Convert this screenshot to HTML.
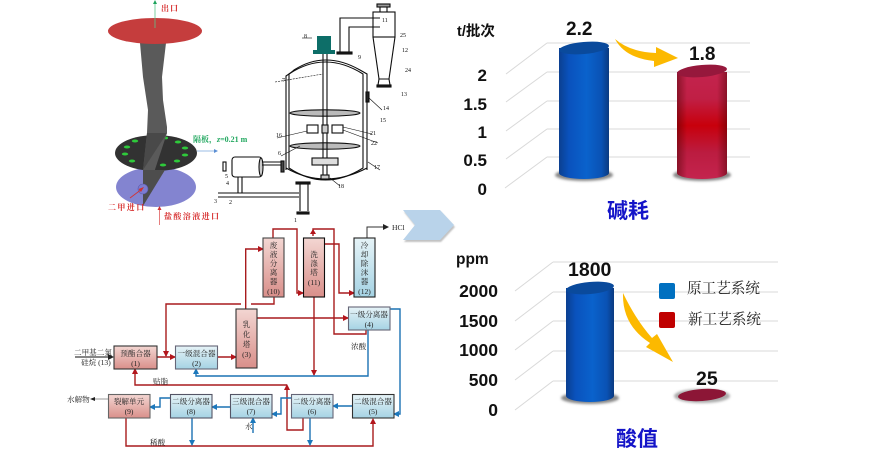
<!DOCTYPE html>
<html><head><meta charset="utf-8"><style>
html,body{margin:0;padding:0;background:#fff;width:892px;height:472px;overflow:hidden}
svg{display:block}
.s{font-family:"Liberation Serif","Noto Serif CJK SC",serif}
.b{font-family:"Liberation Sans","Noto Sans CJK SC",sans-serif;font-weight:bold;fill:#111}
.n{font-size:6px;fill:#111}
.t{font-size:7.6px;fill:#222;text-anchor:middle}
.r{fill:none;stroke:#a81a1e;stroke-width:1.4}
.u{fill:none;stroke:#1c72b4;stroke-width:1.4}
.g{stroke:#d9d9d9;stroke-width:1;fill:none}
</style></head><body>
<svg width="892" height="472" viewBox="0 0 892 472" xmlns="http://www.w3.org/2000/svg">
<defs>
<linearGradient id="p" x1="0" y1="0" x2="0" y2="1"><stop offset="0" stop-color="#f3d6d2"/><stop offset="1" stop-color="#d98f8a"/></linearGradient>
<linearGradient id="q" x1="0" y1="0" x2="0" y2="1"><stop offset="0" stop-color="#e6f3f7"/><stop offset="1" stop-color="#a5d3e4"/></linearGradient>
<linearGradient id="bc" x1="0" y1="0" x2="1" y2="0"><stop offset="0" stop-color="#0b3f90"/><stop offset=".2" stop-color="#0a52bd"/><stop offset=".55" stop-color="#0a62cc"/><stop offset=".85" stop-color="#0a52b4"/><stop offset="1" stop-color="#0b3a80"/></linearGradient>
<linearGradient id="rc" x1="0" y1="0" x2="0" y2="1"><stop offset="0" stop-color="#c4244e"/><stop offset=".25" stop-color="#c01f45"/><stop offset=".5" stop-color="#c8000c"/><stop offset=".75" stop-color="#bb1c40"/><stop offset="1" stop-color="#c4244e"/></linearGradient>
<linearGradient id="rs" x1="0" y1="0" x2="1" y2="0"><stop offset="0" stop-color="#400" stop-opacity=".45"/><stop offset=".2" stop-color="#400" stop-opacity="0"/><stop offset=".8" stop-color="#400" stop-opacity="0"/><stop offset="1" stop-color="#400" stop-opacity=".45"/></linearGradient>
<marker id="ar" markerWidth="6" markerHeight="6" refX="5" refY="3" orient="auto" markerUnits="userSpaceOnUse"><path d="M0,0L6,3L0,6Z" fill="#b3161c"/></marker>
<marker id="au" markerWidth="6" markerHeight="6" refX="5" refY="3" orient="auto" markerUnits="userSpaceOnUse"><path d="M0,0L6,3L0,6Z" fill="#1f78bc"/></marker>
<marker id="ak" markerWidth="6" markerHeight="6" refX="5" refY="3" orient="auto" markerUnits="userSpaceOnUse"><path d="M0,0L6,3L0,6Z" fill="#222"/></marker>
<filter id="bl" x="-5%" y="-5%" width="110%" height="110%"><feGaussianBlur stdDeviation=".35"/></filter>
<filter id="bs" x="-20%" y="-50%" width="140%" height="200%"><feGaussianBlur stdDeviation="1.2"/></filter>
<filter id="bc2" x="-10%" y="-10%" width="120%" height="130%"><feDropShadow dx="1" dy="2" stdDeviation=".8" flood-color="#999" flood-opacity=".6"/></filter>
</defs>

<!-- CFD model -->
<g filter="url(#bl)">
<ellipse cx="156" cy="187" rx="40" ry="20" fill="#8384d0"/>
<ellipse cx="156" cy="153" rx="41" ry="18" fill="#333"/>
<g fill="#2fc93a">
<ellipse cx="135" cy="141" rx="3.2" ry="1.5"/><ellipse cx="178" cy="142" rx="3.2" ry="1.5"/><ellipse cx="185" cy="148" rx="3.2" ry="1.5"/><ellipse cx="185" cy="155" rx="3.2" ry="1.5"/><ellipse cx="177" cy="161" rx="3.2" ry="1.5"/><ellipse cx="163" cy="165" rx="3.2" ry="1.5"/><ellipse cx="148" cy="165" rx="2.5" ry="1.5"/><ellipse cx="132" cy="161" rx="3.2" ry="1.5"/><ellipse cx="125" cy="154" rx="3.2" ry="1.5"/><ellipse cx="127" cy="147" rx="3.2" ry="1.5"/><ellipse cx="166" cy="138" rx="2" ry="1.4"/>
</g>
<polygon points="140,43 166,43 162,77 163,100 167,127 167,133 143,206 143,170 147,133 148,110 143,77" fill="#5a5a5a"/>
<polygon points="147,133 167,133 143,170" fill="#4a4a4a"/>
<polygon points="143,170 165,170 143,206" fill="#4e4e4e"/>
<circle cx="143" cy="189" r="5" fill="#7c7cd0" stroke="#5a5ab0" stroke-width=".6"/>
<ellipse cx="155" cy="31" rx="47" ry="13" fill="#c53c3e"/>
<path d="M155,28V3" stroke="#5cc58a" stroke-width=".8"/><path d="M153,4L155,0L157,4Z" fill="#1fa35c"/>
<path d="M130,198L142,189" stroke="#d43030" stroke-width=".8"/><path d="M144,187L141,192L138.500,189Z" fill="#d03030"/>
<path d="M159.500,225V209" stroke="#e06060" stroke-width=".8"/><path d="M157.500,210L159.500,206L161.500,210Z" fill="#d03030"/>
<path d="M197,151H214" stroke="#7aa6dc" stroke-width=".8"/><path d="M214,149L218,151L214,153Z" fill="#5b8fd4"/>
<text class="s" x="161" y="11" font-size="8" font-weight="bold" fill="#d62c2c" letter-spacing="1">出口</text>
<text class="s" x="193" y="142" font-size="8" font-weight="bold" fill="#23a860">隔板，<tspan font-style="italic">z</tspan>=0.21 m</text>
<text class="s" x="108" y="210" font-size="8" font-weight="bold" fill="#d62c2c" letter-spacing="1.4">二甲进口</text>
<text class="s" x="164" y="219" font-size="8" font-weight="bold" fill="#d62c2c" letter-spacing="1.4">盐酸溶液进口</text>
</g>

<!-- Reactor -->
<g filter="url(#bl)" fill="none" stroke="#111" stroke-width="1.100">
<path d="M286,170V76Q292,72 294,70Q325,50 360,70L367,74V170"/>
<path d="M289,168V74Q325,50 363,74V168Q325,192 289,168Z"/>
<path d="M286,168Q325,190 367,168" />
<ellipse cx="325" cy="113" rx="35" ry="3.200" fill="#bbb"/>
<ellipse cx="325" cy="146" rx="35" ry="3.200" fill="#bbb"/>
<path d="M323,54V178M327,54V178"/>
<rect x="307" y="125" width="11" height="8" fill="#fff"/><rect x="332" y="125" width="11" height="8" fill="#fff"/><rect x="322" y="125" width="6" height="8" fill="#ccc"/>
<rect x="312" y="158" width="26" height="7" fill="#ddd"/>
<rect x="321" y="175" width="8" height="4" fill="#ccc"/>
<rect x="366" y="92" width="3" height="10" fill="#222"/>
<rect x="232" y="157" width="30" height="20" rx="3" fill="#fff"/>
<ellipse cx="261" cy="167" rx="2" ry="9" fill="#ccc"/>
<rect x="223" y="162" width="3" height="9" fill="#fff"/>
<path d="M262,162H282M262,165H282"/><rect x="281" y="161" width="3" height="11" fill="#444"/>
<path d="M238,177V193M242,177V193"/>
<path d="M218,193H299M218,197H299"/>
<path d="M300,184V211M308,184V211"/>
<rect x="296" y="182" width="14" height="2" fill="#222"/><rect x="297" y="212" width="12" height="2" fill="#222"/>
<rect x="373" y="12" width="22" height="25"/>
<path d="M373,37L379,79H389L395,37"/>
<rect x="377" y="4" width="13" height="3" fill="#999"/><path d="M380,7V12M387,7V12"/>
<rect x="377" y="85" width="14" height="2" fill="#222"/><path d="M379,79L378,85M389,79L390,85"/>
<path d="M340,52V18H380M349,52V27H380"/>
<rect x="337" y="52" width="15" height="2" fill="#222"/>
<path d="M312,38H302" stroke-width=".6"/>
<path d="M275,82L323,74" stroke-dasharray="2 1" stroke-width=".6"/>
<path d="M277,138L307,131M281,156L300,146M343,127L372,134M343,130L378,143M369,98L382,110M368,162L380,170M330,178L340,186" stroke-width=".6"/>
</g>
<rect x="317" y="36" width="14" height="14" fill="#0f6e68" filter="url(#bl)"/>
<rect x="313" y="50" width="22" height="4" fill="#0f6e68" filter="url(#bl)"/>
<g class="s n" filter="url(#bl)">
<text x="304" y="38">8</text><text x="358" y="59">9</text><text x="282" y="82">7</text><text x="276" y="137">16</text><text x="278" y="155">6</text>
<text x="382" y="22">11</text><text x="400" y="37">25</text><text x="402" y="52">12</text><text x="405" y="72">24</text><text x="401" y="96">13</text>
<text x="383" y="110">14</text><text x="380" y="122">15</text><text x="370" y="135">21</text><text x="371" y="145">22</text><text x="374" y="169">17</text><text x="338" y="188">18</text>
<text x="225" y="178">5</text><text x="226" y="185">4</text><text x="229" y="204">2</text><text x="214" y="203">3</text><text x="294" y="222">1</text>
</g>

<!-- Flow diagram -->
<g filter="url(#bl)">
<polyline class="r" points="166,356 166,304 241,304"/><polyline class="r" points="251,304 274,304 274,297"/>
<path d="M163,351L169,351L166,357Z" fill="#b3161c"/>
<polyline class="r" points="157,357 175,357" marker-end="url(#ar)"/>
<polyline class="r" points="217,357 236,357" marker-end="url(#ar)"/>
<polyline class="r" points="245.700,309 245.700,249 263,249" marker-end="url(#ar)"/>
<polyline class="r" points="257,318 348,318" marker-end="url(#ar)"/>
<polyline class="r" points="273,238 273,229 297,229 297,293 303,293" marker-end="url(#ar)"/>
<polyline class="r" points="366,330 366,334 334,334 334,229 313,229 313,236"/><path d="M310,234L313,229L316,234Z" fill="#b3161c"/>
<polyline class="r" points="325,244 339,244 339,293 354,293" marker-end="url(#ar)"/>
<polyline class="r" points="314,297 314,375" marker-end="url(#ar)"/>
<polyline class="r" points="303,418 303,430 287,430 287,387"/><path d="M284,390L287,384L290,390Z" fill="#b3161c"/>
<polyline class="r" points="287,385 135,385 135,371"/><path d="M132,374L135,368L138,374Z" fill="#b3161c"/>
<polyline class="r" points="126,418 126,446 373,446 373,420"/><path d="M370,424L373,418L376,424Z" fill="#b3161c"/>
<polyline class="u" points="368,330 368,376 196,376 196,371"/><path d="M193,374L196,368L199,374Z" fill="#1f78bc"/>
<polyline class="u" points="390,309 400,309 400,414 394,414" marker-end="url(#au)"/>
<polyline class="u" points="352,406 333,406" marker-end="url(#au)"/>
<polyline class="u" points="291,398 281,398 281,414 272,414" marker-end="url(#au)"/>
<polyline class="u" points="230,407 212,407" marker-end="url(#au)"/>
<polyline class="u" points="170,398 160,398 160,407 150,407" marker-end="url(#au)"/>
<polyline class="u" points="192,418 192,445" marker-end="url(#au)"/>
<polyline class="u" points="310,418 310,445" marker-end="url(#au)"/>
<polyline class="u" points="253,433 253,418" marker-end="url(#au)"/>
<polyline points="108,399 92,399" fill="none" stroke="#aaa" stroke-width="1.200"/><path d="M95,397V401L90,399Z" fill="#222"/>
<polyline points="75,357 113,357" fill="none" stroke="#111" stroke-width="1" marker-end="url(#ak)"/>
<polyline points="367,238 367,227 388,227" fill="none" stroke="#333" stroke-width="1" marker-end="url(#ak)"/>

<g stroke="#333" stroke-width="1.100">
<rect x="114" y="346" width="43" height="23" fill="url(#p)"/>
<rect x="175.500" y="346" width="42" height="23" fill="url(#q)" stroke="#667"/>
<rect x="236" y="309" width="21" height="59" fill="url(#p)"/>
<rect x="108.500" y="394.500" width="41.500" height="23.500" fill="url(#p)" stroke="#666"/>
<rect x="170.500" y="394.500" width="41.500" height="23.500" fill="url(#q)" stroke="#556"/>
<rect x="230.500" y="394.500" width="41.500" height="23.500" fill="url(#q)" stroke="#556"/>
<rect x="291.500" y="394.500" width="41.500" height="23.500" fill="url(#q)" stroke="#667"/>
<rect x="352.500" y="394.500" width="41.500" height="23.500" fill="url(#q)"/>
<rect x="348.500" y="307" width="41.500" height="23" fill="url(#q)" stroke="#667"/>
<rect x="263" y="238" width="21" height="59" fill="url(#p)" stroke="#444"/>
<rect x="303.500" y="238" width="21" height="59" fill="url(#p)" stroke="#111"/>
<rect x="354" y="238" width="21" height="59" fill="url(#q)" stroke="#222"/>
</g>
<g class="s t">
<text x="135.500" y="356">预酯合器</text><text x="135.500" y="366">(1)</text>
<text x="196.500" y="356">一级混合器</text><text x="196.500" y="366">(2)</text>
<text x="246.500" y="327">乳</text><text x="246.500" y="337">化</text><text x="246.500" y="347">塔</text><text x="246.500" y="357">(3)</text>
<text x="369" y="317">一级分离器</text><text x="369" y="327">(4)</text>
<text x="373" y="404">二级混合器</text><text x="373" y="414">(5)</text>
<text x="312" y="404">二级分离器</text><text x="312" y="414">(6)</text>
<text x="251" y="404">三级混合器</text><text x="251" y="414">(7)</text>
<text x="191" y="404">二级分离器</text><text x="191" y="414">(8)</text>
<text x="129" y="404">裂解单元</text><text x="129" y="414">(9)</text>
<text x="273.500" y="248">废</text><text x="273.500" y="257">液</text><text x="273.500" y="266">分</text><text x="273.500" y="275">离</text><text x="273.500" y="284">器</text><text x="273.500" y="294">(10)</text>
<text x="314" y="257">洗</text><text x="314" y="266">涤</text><text x="314" y="275">塔</text><text x="314" y="285">(11)</text>
<text x="364.500" y="248">冷</text><text x="364.500" y="257">却</text><text x="364.500" y="266">除</text><text x="364.500" y="275">沫</text><text x="364.500" y="284">器</text><text x="364.500" y="294">(12)</text>
</g>
<g class="s" font-size="7.600" fill="#222">
<text x="74" y="355">二甲基二氯</text>
<text x="81" y="365">硅烷 (13)</text>
<text x="67" y="402">水解物</text>
<text x="153" y="384">贴脂</text>
<text x="150" y="445">稀酸</text>
<text x="351" y="349">浓酸</text>
<text x="245" y="429">水</text>
<text x="392" y="230">HCl</text>
</g>
</g>

<!-- Chevron -->
<polygon points="403,210 440,210 454,225 440,240 403,240 415,225" fill="#b9d3ea" filter="url(#bc2)"/>

<!-- Chart 1 -->
<g class="g">
<path d="M547,43H750M547,72H750M547,101H750M547,129H750M547,157H750"/>
<path d="M547,43L506,74M547,72L506,102M547,101L506,131M547,129L506,159M547,157L505,188"/>
</g>
<ellipse cx="584" cy="175" rx="29" ry="6" fill="#888" filter="url(#bs)"/>
<ellipse cx="702" cy="175" rx="29" ry="6" fill="#888" filter="url(#bs)"/>
<path d="M559,48V173A25,6 0 0 0 609,173V48Z" fill="url(#bc)"/>
<ellipse cx="584" cy="48" rx="25" ry="6" transform="rotate(-5 584 48)" fill="#0a4a9c"/>
<path d="M677,72V173A25,6 0 0 0 727,173V72Z" fill="url(#rc)"/>
<path d="M677,72V173A25,6 0 0 0 727,173V72Z" fill="url(#rs)"/>
<ellipse cx="702" cy="71" rx="25" ry="6" transform="rotate(-5 702 71)" fill="#96183c"/>
<path d="M615,39Q630,52 656,53L656,47L678,58L654,67L654,61Q625,58 615,39Z" fill="#fcb900"/>
<text class="b" x="457" y="36" font-size="14.500">t/批次</text>
<g class="b" font-size="17" text-anchor="end">
<text x="487" y="81">2</text><text x="487" y="110">1.5</text><text x="487" y="138">1</text><text x="487" y="166">0.5</text><text x="487" y="195">0</text>
</g>
<text class="b" x="566" y="35" font-size="19">2.2</text>
<text class="b" x="689" y="60" font-size="19">1.8</text>
<text class="b" x="607" y="218" font-size="21" style="fill:#1414c8">碱耗</text>

<!-- Chart 2 -->
<g class="g">
<path d="M553,262H778M553,292H778M553,321H778M553,351H778M553,381H778"/>
<path d="M553,262L515,291M553,292L515,321M553,321L515,350M553,351L515,380M553,381L515,410"/>
</g>
<ellipse cx="590" cy="398" rx="29" ry="6" fill="#888" filter="url(#bs)"/>
<ellipse cx="702" cy="396" rx="28" ry="7" fill="#aaa" filter="url(#bs)"/>
<path d="M566,288V396A24,6 0 0 0 614,396V288Z" fill="url(#bc)"/>
<ellipse cx="590" cy="288" rx="24" ry="6" transform="rotate(-5 590 288)" fill="#0a4a9c"/>
<ellipse cx="702" cy="395" rx="24" ry="6" transform="rotate(-4 702 395)" fill="#8c1636"/>
<path d="M623,293Q636,320 652,338L657,334L673,362L646,347L650,343Q622,325 623,293Z" fill="#fcb900"/>
<text class="b" x="456" y="264" font-size="15.500">ppm</text>
<g class="b" font-size="17.500" text-anchor="end">
<text x="498" y="297">2000</text><text x="498" y="327">1500</text><text x="498" y="356">1000</text><text x="498" y="386">500</text><text x="498" y="416">0</text>
</g>
<text class="b" x="568" y="276" font-size="19.500">1800</text>
<text class="b" x="696" y="385" font-size="19.500">25</text>
<text class="b" x="616" y="446" font-size="21" style="fill:#1414c8">酸值</text>
<rect x="659" y="283" width="16" height="16" rx="2" fill="#0070c0"/>
<rect x="659" y="312" width="16" height="16" rx="2" fill="#c00000"/>
<g class="s" font-size="14.600" fill="#222">
<text x="687" y="293">原工艺系统</text>
<text x="688" y="324">新工艺系统</text>
</g>
</svg>
</body></html>
